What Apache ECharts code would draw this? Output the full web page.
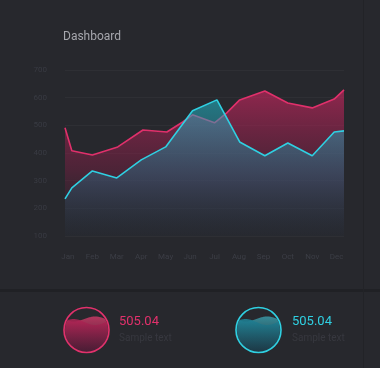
<!DOCTYPE html>
<html>
<head>
<meta charset="utf-8">
<script src="https://cdn.jsdelivr.net/npm/echarts@6/dist/echarts.min.js"></script>
<style>
html,body{margin:0;padding:0;background:#27282d;}
#chart{width:380px;height:368px;}
</style>
</head>
<body>
<div id="chart"></div>
<script>
// ---- data ----
const months = ['Jan','Feb','Mar','Apr','May','Jun','Jul','Aug','Sep','Oct','Nov','Dec'];
const monthTicks = [0,1,2,3,4,5,6,7,8,9,10,11];
const yTicks = [100,200,300,400,500,600,700];
// red series: month position and value
const redX = [-0.12, 0.16, 1.0, 2.04, 3.07, 4.05, 4.7, 5.1, 6.0, 6.5, 7.03, 8.06, 9.0, 10.0, 10.9, 11.3];
const redY = [491, 408, 393, 422, 483, 476, 512, 538, 509, 545, 592, 624, 581, 563, 595, 628];
// cyan series
const cyanX = [-0.12, 0.16, 1.0, 2.0, 3.0, 4.0, 5.1, 6.1, 7.03, 8.06, 9.0, 10.0, 10.9, 11.3];
const cyanY = [234, 274, 335, 310, 375, 422, 553, 592, 440, 390, 436, 390, 476, 480];
const widgetValues = ['505.04', '505.04'];
const widgetTexts = ['Sample text', 'Sample text'];
const titleText = 'Dashboard';

const chart = echarts.init(document.getElementById('chart'), null, {renderer:'canvas'});

const pink = '#e2316c';
const cyan = '#2fd0e2';

function wavePoly(cx, cy, r, level, amp, phase, freq) {
  const pts = [];
  const N = 60;
  for (let i = 0; i <= N; i++) {
    const x = cx - r + 2 * r * i / N;
    const dx = x - cx;
    const h = Math.sqrt(Math.max(0, r * r - dx * dx));
    const wy = cy + level + amp * Math.sin((i / N) * Math.PI * 2 * freq + phase);
    pts.push([x, Math.min(Math.max(wy, cy - h), cy + h)]);
  }
  for (let i = N; i >= 0; i--) {
    const x = cx - r + 2 * r * i / N;
    const dx = x - cx;
    const h = Math.sqrt(Math.max(0, r * r - dx * dx));
    pts.push([x, cy + h]);
  }
  return pts;
}

function widget(cx, cy, r, color, backFill, frontFill, value, text, tx) {
  return [
    {type:'polygon', shape:{points: wavePoly(cx, cy, r - 1, -11, 2.5, Math.PI*0.1, 1)}, style:{fill: backFill}},
    {type:'polygon', shape:{points: wavePoly(cx, cy, r - 1, -8, 3, Math.PI*1.1, 1)}, style:{fill: frontFill}},
    {type:'circle', shape:{cx:cx, cy:cy, r:r}, style:{fill:'none', stroke:color, lineWidth:1.6}},
    {type:'text', x:tx, y:322, style:{text:value, fill:color, font:'13px Roboto', textVerticalAlign:'middle', textAlign:'left'}},
    {type:'text', x:tx, y:338, style:{text:text, fill:'#37383f', font:'10px Roboto', textVerticalAlign:'middle', textAlign:'left'}}
  ];
}

const pinkBack = new echarts.graphic.LinearGradient(0,0,0,1,[{offset:0,color:'rgba(226,60,110,0.75)'},{offset:1,color:'rgba(120,30,70,0.5)'}]);
const pinkFront = new echarts.graphic.LinearGradient(0,0,0,1,[{offset:0,color:'rgba(180,35,85,0.85)'},{offset:1,color:'rgba(70,25,50,0.6)'}]);
const cyanBack = new echarts.graphic.LinearGradient(0,0,0,1,[{offset:0,color:'rgba(60,170,185,0.75)'},{offset:1,color:'rgba(30,80,95,0.5)'}]);
const cyanFront = new echarts.graphic.LinearGradient(0,0,0,1,[{offset:0,color:'rgba(30,130,150,0.9)'},{offset:1,color:'rgba(25,55,70,0.6)'}]);

const option = {
  backgroundColor:'#27282d',
  animation:false,
  title:{
    text:titleText, left:63, top:31, padding:0,
    textStyle:{color:'#a6a7ad', fontSize:12, fontWeight:'normal', fontFamily:'Roboto'}
  },
  grid:{left:65, right:36, top:70, bottom:132},
  xAxis:{
    type:'value', min:-0.12, max:11.3,
    axisLine:{show:false}, axisTick:{show:false}, splitLine:{show:false},
    axisLabel:{
      customValues: monthTicks,
      formatter:(v)=>months[Math.round(v)],
      color:'#3c3e46', fontSize:8, margin:17, fontFamily:'Roboto'
    }
  },
  yAxis:{
    type:'value', min:100, max:700, interval:100,
    axisLine:{show:false}, axisTick:{show:false},
    axisLabel:{color:'#393b43', fontSize:8, margin:18, fontFamily:'Roboto',
      formatter:(v)=> yTicks.includes(v) ? String(v) : ''},
    splitLine:{lineStyle:{color:'rgba(255,255,255,0.035)', width:1}}
  },
  series:[
    {
      type:'line', name:'red', showSymbol:false, symbol:'none',
      data: redX.map((x,i)=>[x, redY[i]]),
      lineStyle:{color:'#e0306b', width:1.6},
      areaStyle:{origin:'start', color: new echarts.graphic.LinearGradient(0,0,0,1,[
        {offset:0,color:'rgba(210,38,98,0.88)'},
        {offset:0.55,color:'rgba(125,30,68,0.62)'},
        {offset:1,color:'rgba(40,32,42,0.1)'}
      ])},
      z:2
    },
    {
      type:'line', name:'cyan', showSymbol:false, symbol:'none',
      data: cyanX.map((x,i)=>[x, cyanY[i]]),
      lineStyle:{color:cyan, width:1.6},
      areaStyle:{origin:'start', color: new echarts.graphic.LinearGradient(0,0,0,1,[
        {offset:0,color:'rgba(32,195,212,0.75)'},
        {offset:0.6,color:'rgba(48,90,115,0.72)'},
        {offset:1,color:'rgba(38,44,54,0.45)'}
      ])},
      z:3
    }
  ],
  graphic:[
    {type:'rect', shape:{x:0, y:289, width:380, height:3}, style:{fill:'#202125'}},
    {type:'rect', shape:{x:363, y:0, width:1, height:368}, style:{fill:'#222327'}},
    ...widget(86.5, 330, 22.5, pink, pinkBack, pinkFront, widgetValues[0], widgetTexts[0], 119),
    ...widget(258.5, 330, 22.5, cyan, cyanBack, cyanFront, widgetValues[1], widgetTexts[1], 292)
  ]
};
chart.setOption(option);
</script>
</body>
</html>
